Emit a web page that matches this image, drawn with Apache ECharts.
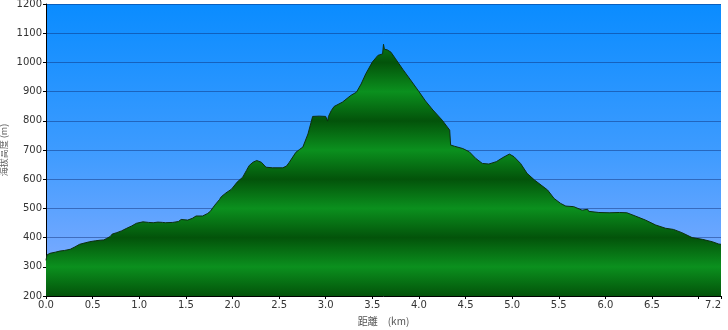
<!DOCTYPE html>
<html><head><meta charset="utf-8">
<script src="https://cdn.jsdelivr.net/npm/echarts@6/dist/echarts.min.js"></script>
<style>html,body{margin:0;padding:0;background:#fff}#c{width:728px;height:330px}</style>
</head><body><div id="c"></div>
<script>
const distanceKm = [0.00,0.01,0.04,0.10,0.15,0.20,0.26,0.31,0.36,0.42,0.47,0.53,0.58,0.62,0.65,0.69,0.71,0.73,0.76,0.81,0.86,0.92,0.97,1.04,1.10,1.15,1.20,1.25,1.26,1.28,1.36,1.42,1.45,1.46,1.52,1.57,1.61,1.68,1.73,1.76,1.81,1.86,1.88,1.93,1.99,2.05,2.11,2.15,2.18,2.22,2.26,2.31,2.36,2.43,2.54,2.58,2.61,2.68,2.72,2.755,2.81,2.86,2.93,3.00,3.02,3.03,3.06,3.09,3.18,3.27,3.33,3.38,3.43,3.50,3.56,3.61,3.62,3.63,3.66,3.70,3.75,3.83,3.91,4.00,4.07,4.15,4.25,4.33,4.34,4.38,4.47,4.54,4.61,4.68,4.75,4.83,4.90,4.97,5.02,5.09,5.16,5.24,5.31,5.38,5.45,5.52,5.575,5.66,5.67,5.68,5.75,5.81,5.82,5.93,6.04,6.15,6.23,6.32,6.43,6.54,6.645,6.73,6.82,6.93,7.04,7.145,7.215,7.24];
const elevationM = [322,340,346,350,354,356,360,368,377,382,386,389,391,392,397,404,412,410,417,423,431,440,449,454,452,451,453,452,456,451,452,455,462,456,460,466,474,474,482,489,511,530,540,553,566,590,607,630,647,658,664,658,641,639,639,645,658,692,702,710,755,815,816,815,799,815,835,849,864,887,898,926,961,1001,1024,1029,1062,1045,1043,1035,1012,975,940,900,868,837,802,768,717,713,705,694,671,654,652,660,674,686,677,654,620,597,580,563,534,517,508,506,511,505,494,497,490,486,485,486,485,474,460,443,432,428,417,400,394,386,378,377];
const yTicks = {min:200, max:1200, interval:100};
const xTicks = {min:0, max:7.24, interval:0.5};

const gridTop = 4, gridBottom = 296;
const greenStops = [];
for (let v = yTicks.max; v >= yTicks.min; v -= 100) {
  const off = (yTicks.max - v) / (yTicks.max - yTicks.min);
  greenStops.push({offset: off, color: (v % 200 === 0) ? '#03530a' : '#0b901e'});
}

const chart = echarts.init(document.getElementById('c'), null, {renderer:'canvas'});
chart.setOption({
  animation: false,
  grid: {left: 46, right: 7, top: gridTop, bottom: 330 - gridBottom, containLabel: false, outerBoundsMode: 'none',
    show: true, borderWidth: 0,
    backgroundColor: {type:'linear', x:0, y:0, x2:0, y2:1, colorStops:[
      {offset:0, color:'#0a8cff'}, {offset:0.5, color:'#3d9bff'}, {offset:1, color:'#8aaeff'}]}},
  xAxis: {
    type: 'value', min: xTicks.min, max: xTicks.max, interval: xTicks.interval,
    name: '距離　(km)', nameLocation: 'middle', nameGap: 20,
    nameTextStyle: {color:'#555', fontSize: 10, fontFamily:'Noto Sans CJK JP'},
    axisLine: {show: true, lineStyle: {color:'#000', width: 1}},
    axisTick: {show: true, length: 3, lineStyle:{color:'#000'}},
    splitLine: {show: false},
    axisLabel: {color:'#333', fontSize: 10, fontFamily:'DejaVu Sans', margin: 4, alignMaxLabel: 'right',
      formatter: v => (Math.abs(v - 7) < 1e-6) ? '' : (v > 7.1 ? '7.2' : v.toFixed(1))}
  },
  yAxis: {
    type: 'value', min: yTicks.min, max: yTicks.max, interval: yTicks.interval,
    name: '海拔高度 (m)', nameLocation: 'middle', nameGap: 38, nameRotate: 90, nameMoveOverlap: false,
    nameTextStyle: {color:'#666', fontSize: 9, fontFamily:'Noto Sans CJK JP'},
    axisLine: {show: true, lineStyle: {color:'#000', width: 1}},
    axisTick: {show: true, length: 3, lineStyle:{color:'#000'}},
    splitLine: {show: true, lineStyle: {color:'rgba(10,40,110,0.45)', width: 1}},
    axisLabel: {color:'#333', fontSize: 10, fontFamily:'DejaVu Sans', margin: 4, formatter: v => String(v)}
  },
  series: [{
    type: 'line', data: distanceKm.map((d,i)=>[d, elevationM[i]]),
    showSymbol: false, smooth: false, z: 1,
    lineStyle: {color:'#0d2f10', width: 1},
    areaStyle: {origin: 'start', opacity: 1,
      color: {type:'linear', global: true, x:0, y:gridTop, x2:0, y2:gridBottom, colorStops: greenStops}}
  }]
});
</script></body></html>
